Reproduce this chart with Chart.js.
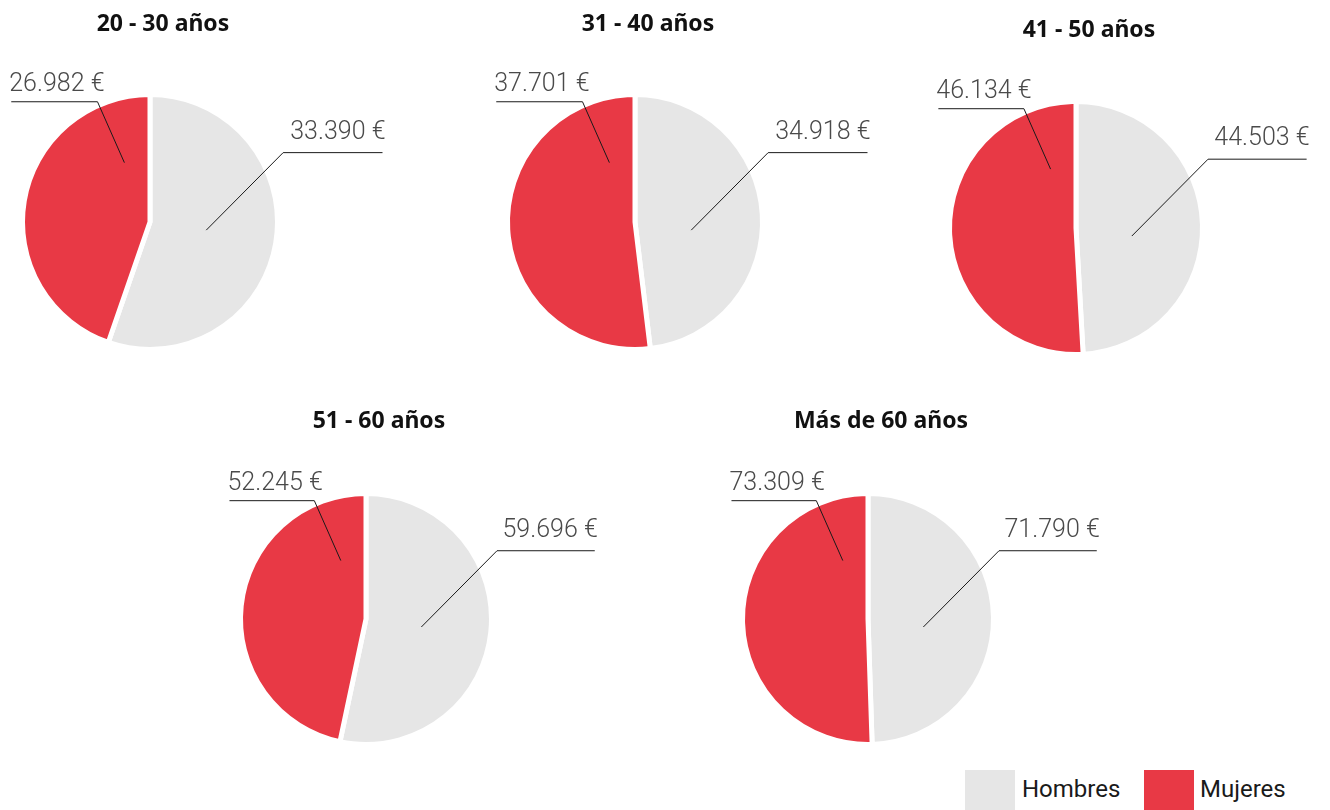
<!DOCTYPE html>
<html lang="es">
<head>
<meta charset="utf-8">
<title>Salario medio por edad y sexo</title>
<script src="https://cdn.jsdelivr.net/npm/chart.js@4.4.1/dist/chart.umd.min.js"></script>
<style>
  html, body { margin: 0; background: #fff; }
  body { width: 1330px; height: 810px; position: relative; overflow: hidden; }
  canvas.pie { position: absolute; }
  .lg-box { position: absolute; width: 50px; height: 40px; top: 770px; }
  .lg-text { position: absolute; top: 772px; font-family: Roboto, "Noto Sans", sans-serif; font-size: 24px; line-height: 34px; color: #1a1a1a; }
</style>
</head>
<body>
<div id="charts"></div>
<div id="legend"></div>
<script>
// data
const groups = ["20 - 30 años", "31 - 40 años", "41 - 50 años", "51 - 60 años", "Más de 60 años"];
const sexes = ["Hombres", "Mujeres"];
const hombres = [33390, 34918, 44503, 59696, 71790];
const mujeres = [26982, 37701, 46134, 52245, 73309];
const colors = ["#e6e6e6", "#e83945"];

// where each pie sits on the page (centre) and its radius
const centres = [[150, 222], [635, 222], [1076, 228], [366, 619], [868, 619]];
const radii = [125, 125, 124, 123, 123];
const W = 395, H = 350, CX = 150, CY = 215;

// leader line shape, in units of the radius
const labelGeom = [
  { anchor: [0.45, 0.065], elbow: [1.065, -0.555], endX: 1.86, align: "right", dx: 3, dy: -14 },
  { anchor: [-0.205, -0.475], elbow: [-0.42, -0.962], endX: -1.11, align: "left", dx: -2, dy: -11 }
];

function euro(v) {
  return String(v).replace(/\B(?=(\d{3})+(?!\d))/g, ".") + " €";
}

const leaders = {
  id: "leaders",
  afterDatasetsDraw(chart, args, opts) {
    const ctx = chart.ctx;
    const meta = chart.getDatasetMeta(0);
    const vals = chart.data.datasets[0].data;
    let cx = 0, cy = 0;
    ctx.save();
    meta.data.forEach((arc, i) => {
      const g = labelGeom[i];
      const r = arc.outerRadius - arc.options.borderWidth / 2;
      cx = arc.x; cy = arc.y;
      const ax = cx + g.anchor[0] * r, ay = cy + g.anchor[1] * r;
      const ex = cx + g.elbow[0] * r, ey = cy + g.elbow[1] * r;
      const tx = cx + g.endX * r;
      ctx.beginPath();
      ctx.moveTo(ax, ay);
      ctx.lineTo(ex, ey);
      ctx.lineTo(tx, ey);
      ctx.strokeStyle = "#1a1a1a";
      ctx.lineWidth = 1;
      ctx.stroke();
      ctx.font = "300 25px Roboto, 'Noto Sans', sans-serif";
      ctx.fillStyle = "#4a4a4a";
      ctx.textAlign = g.align;
      ctx.textBaseline = "alphabetic";
      ctx.fillText(euro(vals[i]), tx + g.dx, ey + g.dy);
    });
    // chart title
    ctx.font = "bold 23px 'Noto Sans', 'Open Sans', sans-serif";
    ctx.fillStyle = "#111";
    ctx.textAlign = "center";
    ctx.fillText(opts.text, cx + 13, cy - 191);
    ctx.restore();
  }
};

const holder = document.getElementById("charts");
groups.forEach((name, k) => {
  const c = document.createElement("canvas");
  c.className = "pie";
  c.width = W;
  c.height = H;
  c.style.left = (centres[k][0] - CX) + "px";
  c.style.top = (centres[k][1] - CY) + "px";
  holder.appendChild(c);

  new Chart(c.getContext("2d"), {
    type: "pie",
    data: {
      labels: sexes,
      datasets: [
        {
          label: name,
          data: [hombres[k], mujeres[k]],
          backgroundColor: colors,
          borderColor: "#ffffff",
          borderWidth: 5,
          radius: radii[k] + 2.5,
        },
      ],
    },
    options: {
      responsive: false,
      animation: false,
      events: [],
      layout: { padding: { left: CX - 130, right: W - CX - 130, top: CY - 130, bottom: H - CY - 130 } },
      plugins: {
        legend: { display: false },
        tooltip: { enabled: false },
        leaders: { text: name },
      },
    },
    plugins: [leaders],
  });
});

// legend
const lg = document.getElementById("legend");
const boxX = [965, 1144], textX = [1022, 1200];
sexes.forEach((s, i) => {
  const b = document.createElement("div");
  b.className = "lg-box";
  b.style.left = boxX[i] + "px";
  b.style.background = colors[i];
  lg.appendChild(b);
  const t = document.createElement("div");
  t.className = "lg-text";
  t.style.left = textX[i] + "px";
  t.textContent = s;
  lg.appendChild(t);
});
</script>
</body>
</html>
